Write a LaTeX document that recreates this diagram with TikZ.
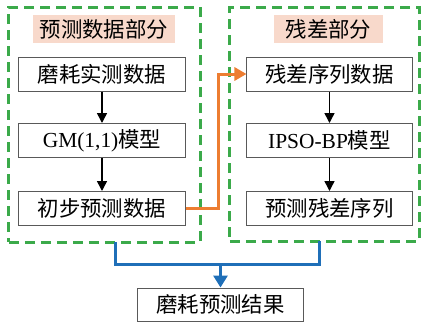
\documentclass[tikz,border=0pt]{standalone}
\usepackage{fontspec}
\setmainfont{Liberation Serif}
\newfontfamily\cjk{Noto Sans CJK SC}
\usetikzlibrary{arrows.meta}
\definecolor{grn}{HTML}{3BAA4A}
\definecolor{org}{HTML}{ED7D31}
\definecolor{blu}{HTML}{1F6FB8}
\definecolor{ttl}{HTML}{F8D9CB}
\definecolor{bordergray}{HTML}{595959}
\begin{document}
\begin{tikzpicture}[x=1bp,y=-1bp,
  font=\fontsize{21.5}{23}\selectfont,
  box/.style={draw=bordergray,line width=1bp,fill=white,inner sep=0pt,minimum width=166bp,minimum height=34bp},
  grp/.style={draw=grn,line width=3bp,dash pattern=on 10bp off 6bp,inner sep=0pt},
  ttlbox/.style={fill=ttl,inner sep=0pt,minimum height=28bp},
  blk/.style={line width=1.5bp,-{Triangle[length=10bp,width=10bp]}},
  bluarr/.style={blu,line width=3bp},
  orgarr/.style={org,line width=3bp}]
\useasboundingbox (0,0) rectangle (422,322);
\node[grp,minimum width=191bp,minimum height=235bp] (gl) at (104.5,124.5) {};
\node[grp,minimum width=189bp,minimum height=234bp] (gr) at (324.5,124) {};
\node[ttlbox,minimum width=142bp] (tl) at (104,29) {\cjk 预测数据部分};
\node[ttlbox,minimum width=109bp] (tr) at (328.5,29) {\cjk 残差部分};
\node[box] (a1) at (102,74) {\cjk 磨耗实测数据};
\node[box] (a2) at (102,140.5) {GM(1,1){\cjk 模型}};
\node[box] (a3) at (102,208.5) {\cjk 初步预测数据};
\node[box,minimum width=165bp] (b1) at (329.5,74) {\cjk 残差序列数据};
\node[box,minimum width=165bp] (b2) at (329.5,140.5) {IPSO-BP{\cjk 模型}};
\node[box,minimum width=165bp] (b3) at (329.5,208.5) {\cjk 预测残差序列};
\node[box,minimum width=165bp,minimum height=33bp] (c) at (220.5,304.5) {\cjk 磨耗预测结果};
\draw[blk] (a1) -- (a2);
\draw[blk] (a2) -- (a3);
\draw[blk] (b1) -- (b2);
\draw[blk] (b2) -- (b3);
\coordinate (j) at (220.5,264);
\draw[orgarr,-{Triangle[length=12bp,width=13bp]}] (a3.east) -- (218,208.5) -- (218,74) -- (b1.west);
\draw[bluarr] (115,242) -- (115,264) -- (319,264) -- (319,241);
\draw[bluarr,-{Triangle[length=12bp,width=14bp]}] (j) -- (c.north);
\end{tikzpicture}
\end{document}
